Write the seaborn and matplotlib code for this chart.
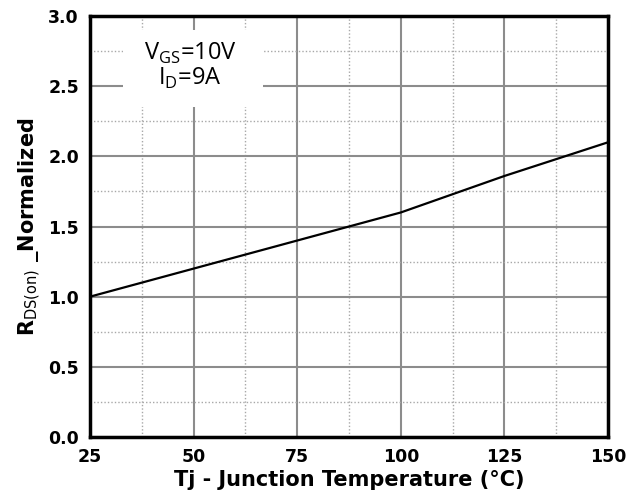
import matplotlib
matplotlib.use("Agg")
import matplotlib.pyplot as plt
import seaborn as sns
import pandas as pd
from matplotlib.ticker import MultipleLocator
from matplotlib.patches import Rectangle

temps = [25, 37.5, 50, 62.5, 75, 87.5, 100, 112.5, 125, 137.5, 150]
rds_norm = [1.0, 1.1, 1.2, 1.3, 1.4, 1.5, 1.6, 1.73, 1.86, 1.98, 2.10]
xticks = [25, 50, 75, 100, 125, 150]
yticks = [0.0, 0.5, 1.0, 1.5, 2.0, 2.5, 3.0]

sns.set_style("white")
plt.rcParams['font.family'] = ['DejaVu Sans']
plt.rcParams['text.color'] = 'black'
plt.rcParams['axes.labelcolor'] = 'black'
plt.rcParams['xtick.color'] = 'black'
plt.rcParams['ytick.color'] = 'black'

df = pd.DataFrame({"Tj": temps, "R": rds_norm})

fig = plt.figure(figsize=(6.28, 5.03), dpi=100)
ax = fig.add_axes([90/628, 1-437/503, 518/628, 421/503])

ax.set_xlim(25, 150)
ax.set_ylim(0, 3)
ax.xaxis.set_major_locator(MultipleLocator(25))
ax.xaxis.set_minor_locator(MultipleLocator(12.5))
ax.yaxis.set_major_locator(MultipleLocator(0.5))
ax.yaxis.set_minor_locator(MultipleLocator(0.25))
ax.grid(which='major', color='#8c8c8c', linestyle='-', linewidth=1.5)
ax.grid(which='minor', color='#a8a8a8', linestyle=(0, (1, 1.5)), linewidth=1.0)
ax.set_axisbelow(True)

sns.lineplot(data=df, x="Tj", y="R", ax=ax, color='black', linewidth=1.6, zorder=3)

ax.set_xticks(xticks)
ax.set_xticklabels([str(t) for t in xticks])
ax.set_yticks(yticks)
ax.set_yticklabels([f"{v:.1f}" for v in yticks])
ax.tick_params(which='both', length=0, labelsize=12.5, pad=8)
for lab in ax.get_xticklabels() + ax.get_yticklabels():
    lab.set_fontweight('bold')

ax.set_xlabel("Tj - Junction Temperature (°C)", fontsize=15, fontweight='bold', labelpad=3)
ax.set_ylabel(r"R$_{\mathrm{DS(on)}}$ _Normalized", fontsize=15, fontweight='bold', labelpad=4)

for sp in ax.spines.values():
    sp.set_visible(True)
    sp.set_color('black')
    sp.set_linewidth(2.5)

# white background box of the annotation
ax.add_patch(Rectangle((33.0, 2.35), 33.7, 0.55, facecolor='white',
                       edgecolor='none', zorder=2.5))
ax.text(0.193, 0.881, "V$_{\\mathregular{GS}}$=10V\nI$_{\\mathregular{D}}$=9A",
        transform=ax.transAxes, ha='center', va='center', fontsize=17,
        family=['Open Sans', 'DejaVu Sans'], linespacing=1.0, zorder=4)

fig.savefig("out.png", dpi=100)
